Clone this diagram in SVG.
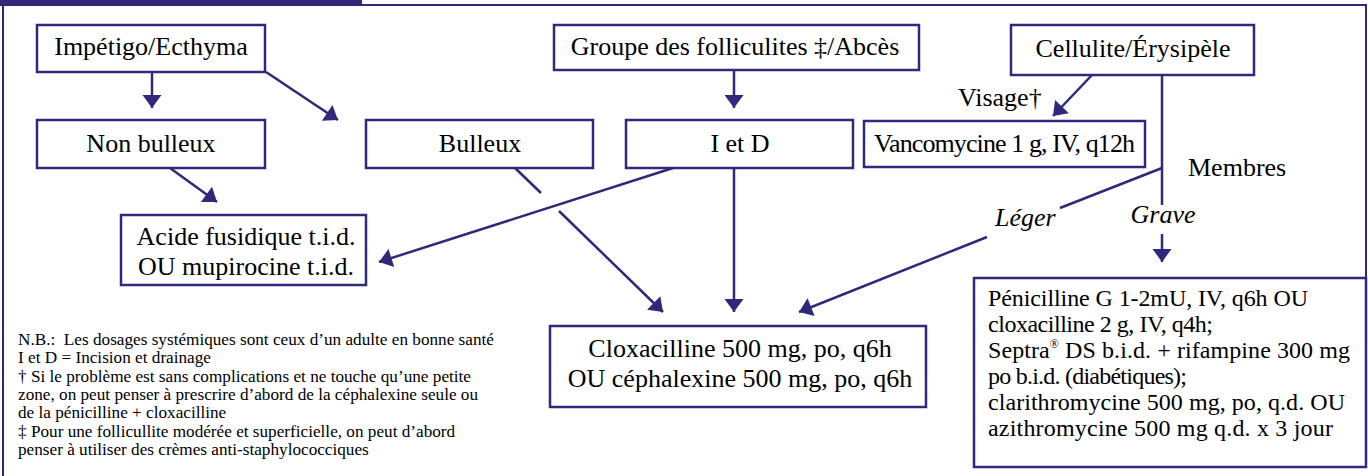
<svg xmlns="http://www.w3.org/2000/svg" width="1368" height="476" viewBox="0 0 1368 476">
<style>
.box{fill:#fff;stroke:#30287a;stroke-width:2.5}
.frame{fill:none;stroke:#30287a;stroke-width:2}
.c{fill:none;stroke:#30287a;stroke-width:2.5}
.t{font-family:"Liberation Serif","Times New Roman",serif;font-size:26px;fill:#000}
.m{text-anchor:middle}
.i{font-style:italic}
.s{font-family:"Liberation Serif","Times New Roman",serif;font-size:24px;fill:#000}
.fn{font-family:"Liberation Serif","Times New Roman",serif;font-size:17.2px;fill:#000}
</style>
<defs>
<marker id="ah" markerUnits="userSpaceOnUse" markerWidth="22" markerHeight="22" viewBox="-15 -11 17 22" refX="0" refY="0" orient="auto">
<path d="M0,0 L-13,-9.5 L-13,9.5 Z" fill="#30287a"/>
</marker>
</defs>
<rect width="1368" height="476" fill="#fff"/>
<g id="frame">
<rect x="0" y="0" width="362" height="6" fill="#30287a"/>
<path class="frame" d="M0,5 H1366 V278 M3,5 V476"/>
</g>
<g id="connectors">
<path class="c" d="M152,72 V108" marker-end="url(#ah)"/>
<path class="c" d="M266,72 L338,120" marker-end="url(#ah)"/>
<path class="c" d="M170,168 L217,202" marker-end="url(#ah)"/>
<path class="c" d="M515,168 L541,193"/>
<path class="c" d="M559,211 L663,312" marker-end="url(#ah)"/>
<path class="c" d="M673,168 L379,262" marker-end="url(#ah)"/>
<path class="c" d="M734,70 V108" marker-end="url(#ah)"/>
<path class="c" d="M734,168 V312" marker-end="url(#ah)"/>
<path class="c" d="M1092,75 L1053,116" marker-end="url(#ah)"/>
<path class="c" d="M1162,75 V205"/>
<path class="c" d="M1162,234 V262" marker-end="url(#ah)"/>
<path class="c" d="M1162,168 L1060,208"/>
<path class="c" d="M987,237 L799,312" marker-end="url(#ah)"/>
</g>
<g id="impetigo">
<rect class="box" x="37" y="25" width="228" height="47"/>
<text class="t m" x="151" y="55">Impétigo/Ecthyma</text>
</g>
<g id="groupe">
<rect class="box" x="554" y="25" width="365" height="45"/>
<text class="t m" x="735" y="55" font-size="26.6">Groupe des folliculites ‡/Abcès</text>
</g>
<g id="cellulite">
<rect class="box" x="1011" y="25" width="243" height="50"/>
<text class="t m" x="1133" y="57">Cellulite/Érysipèle</text>
</g>
<g id="nonbulleux">
<rect class="box" x="37" y="120" width="228" height="48"/>
<text class="t m" x="151" y="152">Non bulleux</text>
</g>
<g id="bulleux">
<rect class="box" x="366" y="120" width="227" height="48"/>
<text class="t m" x="480" y="152">Bulleux</text>
</g>
<g id="ietd">
<rect class="box" x="626" y="120" width="227" height="48"/>
<text class="t m" x="740" y="152">I et D</text>
</g>
<g id="vancomycine">
<rect class="box" x="864" y="121" width="281" height="46"/>
<text class="t" x="874" y="152" textLength="261">Vancomycine 1 g, IV, q12h</text>
</g>
<g id="labels">
<text class="t" x="958" y="106">Visage†</text>
<text class="t" x="1188" y="176">Membres</text>
<text class="t i" x="995" y="226">Léger</text>
<text class="t i m" x="1163" y="223">Grave</text>
</g>
<g id="acide">
<rect class="box" x="121" y="215" width="245" height="70"/>
<text class="t m" x="246" y="245" font-size="25.2">Acide fusidique t.i.d.</text>
<text class="t m" x="246" y="275" font-size="25.2">OU mupirocine t.i.d.</text>
</g>
<g id="cloxacilline">
<rect class="box" x="550" y="326" width="376" height="81"/>
<text class="t m" x="740" y="357" font-size="26.8">Cloxacilline 500 mg, po, q6h</text>
<text class="t m" x="740" y="387" font-size="26.8">OU céphalexine 500 mg, po, q6h</text>
</g>
<g id="penicilline">
<rect class="box" x="974" y="278" width="392" height="189"/>
<text class="s" x="988" y="306" textLength="320">Pénicilline G 1-2mU, IV, q6h OU</text>
<text class="s" x="988" y="332" textLength="225">cloxacilline 2 g, IV, q4h;</text>
<text class="s" x="988" y="358" textLength="362">Septra<tspan font-size="12" dy="-10">®</tspan><tspan dy="10"> DS b.i.d. + rifampine 300 mg</tspan></text>
<text class="s" x="988" y="384" textLength="199">po b.i.d. (diabétiques);</text>
<text class="s" x="988" y="410" textLength="357">clarithromycine 500 mg, po, q.d. OU</text>
<text class="s" x="988" y="436" textLength="345">azithromycine 500 mg q.d. x 3 jour</text>
</g>
<g id="notes">
<text class="fn" x="18" y="345" xml:space="preserve">N.B.:  Les dosages systémiques sont ceux d’un adulte en bonne santé</text>
<text class="fn" x="18" y="363">I et D = Incision et drainage</text>
<text class="fn" x="18" y="382">† Si le problème est sans complications et ne touche qu’une petite</text>
<text class="fn" x="18" y="400">zone, on peut penser à prescrire d’abord de la céphalexine seule ou</text>
<text class="fn" x="18" y="418">de la pénicilline + cloxacilline</text>
<text class="fn" x="18" y="437">‡ Pour une follicullite modérée et superficielle, on peut d’abord</text>
<text class="fn" x="18" y="455">penser à utiliser des crèmes anti-staphylococciques</text>
</g>
</svg>
